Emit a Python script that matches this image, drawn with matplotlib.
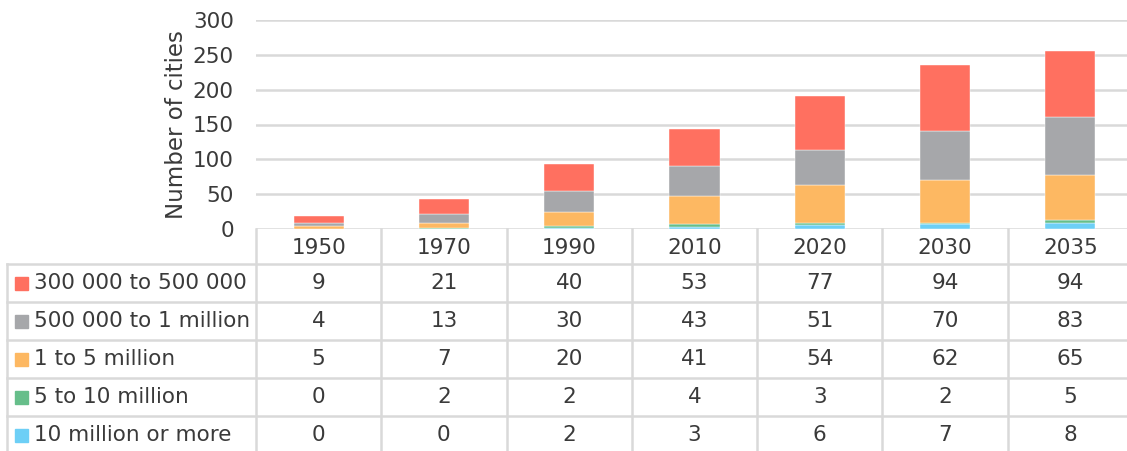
import numpy as np
import matplotlib.pyplot as plt

# данные из таблицы
years = ['1950', '1970', '1990', '2010', '2020', '2030', '2035']
series_names = ['300 000 to 500 000', '500 000 to 1 million', '1 to 5 million',
                '5 to 10 million', '10 million or more']
v_300k = [9, 21, 40, 53, 77, 94, 94]
v_500k = [4, 13, 30, 43, 51, 70, 83]
v_1m = [5, 7, 20, 41, 54, 62, 65]
v_5m = [0, 2, 2, 4, 3, 2, 5]
v_10m = [0, 0, 2, 3, 6, 7, 8]

colors = ['#FF7060', '#A6A7AA', '#FDB862', '#66BE8A', '#6DCFF6']
values = [v_300k, v_500k, v_1m, v_5m, v_10m]

plt.rcParams['font.family'] = ['DejaVu Sans']
W, H = 1127, 451
fig = plt.figure(figsize=(W / 100, H / 100), dpi=100)
txt_c = '#3A3A3A'

# область графика (в пикселях)
x0, x1 = 256, 1133
y_top, y_bot = 20, 229
ax = fig.add_axes([x0 / W, 1 - y_bot / H, (x1 - x0) / W, (y_bot - y_top) / H])

n = len(years)
x = np.arange(n) + 0.5
bottom = np.zeros(n)
# рисуем снизу вверх
for vals, col in zip(values[::-1], colors[::-1]):
    ax.bar(x, vals, width=0.4, bottom=bottom, color=col, edgecolor='white', linewidth=0.3, zorder=3)
    bottom += np.array(vals)

ax.set_xlim(0, n)
ax.set_ylim(0, 300)
ax.set_yticks(range(0, 301, 50))
ax.set_xticks([])
ax.grid(axis='y', color='#D9D9D9', linewidth=1.8, zorder=0)
for s in ax.spines.values():
    s.set_visible(False)
ax.tick_params(axis='y', length=0, pad=16, labelsize=15.5, labelcolor=txt_c)
ax.set_ylabel('Number of cities', fontsize=16.5, color=txt_c, labelpad=3)

# таблица под графиком
tab = fig.add_axes([0, 0, 1, 1])
tab.set_xlim(0, W)
tab.set_ylim(H, 0)
tab.axis('off')

line_c = '#D9D9D9'
col_w = (x1 - x0) / n
row_edges = [264, 302, 340, 378, 416, 454]

# вертикальные линии
for i in range(n + 1):
    xx = x0 + i * col_w
    tab.plot([xx, xx], [y_bot, H], color=line_c, lw=1.8)
tab.plot([7, 7], [264, H], color=line_c, lw=1.8)
# горизонтальные линии
for ry in row_edges[:-1]:
    tab.plot([7, x1], [ry, ry], color=line_c, lw=1.8)

# заголовки лет
for i, yr in enumerate(years):
    tab.text(x0 + (i + 0.5) * col_w, (y_bot + 264) / 2 + 1, yr, ha='center', va='center',
             fontsize=15.5, color=txt_c)

for r, (name, vals, col) in enumerate(zip(series_names, values, colors)):
    yc = (row_edges[r] + row_edges[r + 1]) / 2
    tab.add_patch(plt.Rectangle((15, yc - 6.5), 13, 13, color=col))
    tab.text(34, yc, name, ha='left', va='center', fontsize=15.5, color=txt_c)
    for i, v in enumerate(vals):
        tab.text(x0 + (i + 0.5) * col_w, yc, str(v), ha='center', va='center',
                 fontsize=15.5, color=txt_c)

fig.savefig('out.png', dpi=100)
